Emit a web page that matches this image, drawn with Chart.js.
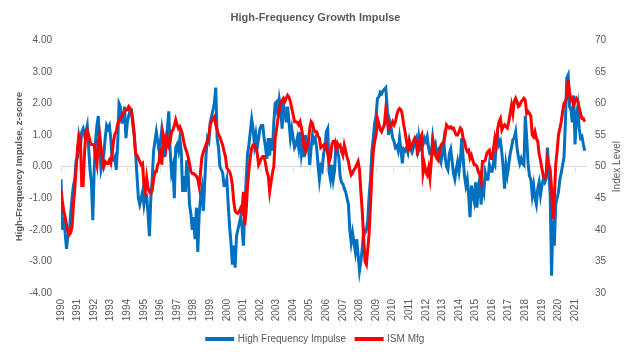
<!DOCTYPE html>
<html>
<head>
<meta charset="utf-8">
<script src="https://cdn.jsdelivr.net/npm/chart.js@4.4.0/dist/chart.umd.min.js"></script>
<style>
  html, body { margin: 0; padding: 0; background: #ffffff; }
</style>
</head>
<body>
<canvas id="myChart" width="631" height="354"></canvas>
<script>
// monthly readings, first value = Jan 1990
let startYear = 1990;

// High Frequency Impulse (z-score, left axis)
let hfImpulse = [
  -0.4, -2.0, -1.6, -2.1, -2.6, -2.2, -2.1, -1.5, -1.0, -0.6, -0.4, 0.2,   //1990
  0.3, 0.9, 0.6, 1.1, 1.2, 1.0, 1.1, 1.3, 0.6, -0.1, -0.5, -1.7,          //1991
  -0.1, 0.8, 1.3, 1.6, 0.6, -0.1, 0.1, 0.4, 0.9, 1.3, 1.2, 1.3,           //1992
  0.9, 0.2, 0.2, 0.3, -0.1, 0.7, 2.0, 1.9, 1.4, 1.4, 1.9, 0.9,            //1993
  1.4, 1.6, 1.8, 1.8, 1.3, 1.0, 0.4, -0.3, -1.0, -1.2, -1.0, -0.8,        //1994
  -1.2, -0.9, -0.9, -1.5, -2.2, -1.0, -0.4, 0.5, 0.8, 1.1, 0.8, 0.5,      //1995
  0.8, 1.2, 0.9, 0.3, 0.9, 1.2, 1.75, 0.5, -0.2, 0.0, -1.0, 0.6,          //1996
  0.7, 0.5, 0.9, 0.5, -0.8, -0.3, -0.8, 0.2, -0.2, -1.2, -1.5, -2.0,      //1997
  -1.6, -2.3, -1.3, -2.7, -1.5, -1.0, -0.7, -1.4, -0.5, 0.4, 0.9, 0.8,    //1998
  1.4, 1.6, 1.8, 2.0, 2.5, 0.9, 0.6, 0.0, -0.1, -0.2, -0.6, -0.6,         //1999
  -0.4, -1.2, -1.9, -2.4, -3.1, -2.5, -3.2, -2.2, -2.0, -1.8, -1.6, -1.9, //2000
  -2.5, -1.4, -0.4, 0.4, 0.7, 1.1, 1.5, 1.2, 0.7, 1.0, 0.6, 0.9,          //2001
  1.2, 1.3, 1.3, 0.9, 0.6, 0.25, 0.9, 0.35, 0.9, 0.5, 1.4, 2.0,           //2002
  2.05, 1.6, 2.1, 1.8, 1.2, 1.95, 1.8, 1.4, 1.9, 1.4, 0.9, 1.2,           //2003
  0.9, 0.6, 0.7, 0.9, 0.6, 1.1, 0.4, 0.7, 0.3, 1.0, 0.6, 0.7,             //2004
  0.05, 0.6, 1.0, 0.8, 0.9, 0.6, 0.05, -0.4, 0.0, -0.1, 0.4, 0.6,         //2005
  1.1, 1.2, -0.15, -0.4, 0.05, -0.4, -0.1, 0.7, 0.55, 0.3, -0.3, -0.5,    //2006
  -0.55, -0.7, -0.8, -1.0, -1.2, -2.0, -2.4, -2.1, -2.4, -2.7, -2.3, -2.8, //2007
  -3.3, -3.0, -2.6, -2.0, -2.1, -2.0, -1.7, -0.9, -0.4, 0.5, 0.9, 1.4,    //2008
  1.6, 2.15, 2.2, 2.35, 2.3, 2.4, 2.45, 2.5, 1.9, 1.0, 1.4, 1.2,          //2009
  0.9, 0.8, 0.6, 0.65, 0.5, 0.9, 0.55, 0.1, 0.55, 0.5, 0.6, 0.45,         //2010
  0.8, 0.55, 0.45, 0.6, 0.8, 0.9, 0.35, 0.9, 0.55, 0.6, 0.7, 0.9,         //2011
  0.8, 0.95, 0.6, 0.4, 0.4, 0.9, 0.55, 0.7, 0.4, 0.5, 0.3, 0.15,          //2012
  0.45, 0.8, 0.3, 0.0, -0.1, 0.4, 0.55, 0.2, -0.2, -0.4, -0.1, 0.15,      //2013
  -0.15, 0.2, 0.9, 0.3, -0.3, -0.6, -0.4, -0.9, -1.6, -0.6, -0.9, -1.1,   //2014
  -0.5, -1.3, -0.6, -0.4, -1.2, -0.6, -0.8, -0.2, -0.4, -0.4, 0.05, -0.15, //2015
  -0.15, 0.15, 0.05, 0.8, 1.0, 0.7, 0.8, 0.45, -0.05, -0.7, 0.05, -0.25,  //2016
  0.05, 0.4, 0.6, 0.85, 0.9, 1.1, 0.6, 0.3, 0.1, 0.25, 0.1, 0.05,         //2017
  1.6, 0.9, 0.1, -0.3, -0.4, -0.9, -0.6, -1.0, -1.2, -0.7, -0.5, -0.9,    //2018
  -0.6, -0.4, -0.5, -0.4, 0.6, -0.1, -0.9, -3.45, -1.7, -2.5, -1.2, -1.0, //2019
  -0.8, -0.4, -0.2, 0.05, 0.3, 1.4, 2.8, 2.9, 1.9, 1.8, 1.4, 2.25,        //2020
  0.7, 1.6, 1.9, 1.2, 0.9, 0.95, 0.7, 0.5                                 //2021
];

// ISM Mfg (index level, right axis)
let ismMfg = [
  46.3, 44.5, 43, 42, 40.8, 39.7, 39.2, 39.5, 40.5, 44, 46.5, 50,         //1990
  53, 55, 54.5, 47, 47, 52, 55.5, 55.8, 55, 54, 53.5, 53.5,               //1991
  53.4, 51.5, 50.3, 54, 55, 53, 51.3, 50, 50.8, 50.5, 50.5, 51,           //1992
  50.5, 52, 54, 55.2, 55.5, 56.8, 57.2, 57.6, 58, 58.4, 58.7, 59,         //1993
  59, 59.5, 59.2, 58.7, 57.4, 55, 52, 51.8, 51.3, 50.8, 50.3, 50.5,       //1994
  47.1, 46, 48.2, 46.6, 46, 45.8, 46.3, 48, 49.2, 49.2, 50.3, 50.8,       //1995
  52.9, 50.3, 55, 54, 52.9, 54.5, 53.4, 54, 55.5, 55.8, 56.5, 57.4,       //1996
  56.6, 56, 56.3, 55.8, 55, 53.8, 52.9, 52.3, 51.5, 50.5, 49.2, 48.9,     //1997
  48.9, 48.7, 48.5, 48, 46.8, 49.2, 51.5, 52.3, 52.9, 53.5, 54, 55,       //1998
  56.6, 57.2, 57.6, 57.9, 56.6, 55.8, 55, 54.7, 54, 53.4, 52.4, 51.6,     //1999
  49.8, 49.5, 49.2, 48.5, 47.1, 44.5, 43, 42.7, 42.6, 42.9, 43.4, 42.9,   //2000
  46, 40.8, 43, 47, 49.5, 51.5, 52.9, 53.4, 53.4, 52.9, 52.1, 50.3,       //2001
  50.8, 51.3, 51.6, 51.6, 50.5, 49.2, 48.5, 46, 47.5, 49, 50, 54.5,       //2002
  56, 57.5, 59, 60, 60.5, 60.8, 60.3, 60.8, 61.3, 61, 60.3, 59.2,         //2003
  58.2, 57.1, 57.1, 57, 56.6, 57.1, 56.1, 54.8, 53, 52.4, 53.2, 54,       //2004
  56, 57.1, 56.8, 55.8, 55.5, 55.5, 54.8, 54.5, 53, 53.2, 53.4, 53,       //2005
  53.4, 52, 50.8, 51.5, 53.5, 54, 54, 52.9, 53.7, 53.2, 53.4, 52.4,       //2006
  51.8, 53.4, 52.5, 51.5, 50.8, 49.5, 48.7, 49, 49.5, 49.8, 50.3, 50.8,   //2007
  49.5, 46, 42.9, 38.7, 35, 34.5, 37, 39.5, 44, 49, 52.4, 54,             //2008
  55, 57.6, 56.8, 55.8, 55.5, 56.1, 56.6, 59, 57.6, 56, 56.1, 56.5,       //2009
  57.1, 56.6, 57.1, 58.2, 58.9, 59.2, 59, 58.2, 56.6, 55.5, 54, 52.9,     //2010
  54, 53, 53.4, 54, 54.5, 54, 52.4, 53.4, 54.5, 55, 49, 50.3,             //2011
  49.2, 48.7, 49.8, 48.2, 51, 54, 53, 51.8, 51.3, 51, 52.5, 53.4,         //2012
  53.7, 53.9, 55, 56.6, 56.3, 56.1, 56.3, 56, 56.1, 55.5, 55, 55,         //2013
  55.5, 56.1, 55.8, 54.5, 54, 52.9, 52.4, 52.6, 51.3, 51.8, 51, 50.3,     //2014
  50.3, 50, 49.2, 48.7, 47.6, 50.8, 50.8, 51, 52, 52.4, 52.6, 51.3,       //2015
  51.3, 52.9, 54.5, 53.5, 56, 57.1, 57.6, 55.8, 56.3, 56.6, 56.3, 56.1,   //2016
  57.1, 58.4, 59.7, 58.4, 60.3, 60.8, 60.3, 59.5, 59.7, 60.3, 60.5, 60.8, //2017
  60.5, 58.4, 58.7, 58.4, 58, 55, 54.7, 55.5, 54.5, 54, 52, 51,           //2018
  49.7, 48.5, 48.2, 48.5, 51.3, 50.3, 49.5, 46.6, 41.6, 45, 50.3, 52.4,   //2019
  55, 56, 57.1, 58.7, 60, 60.3, 61, 63.7, 61.8, 60.5, 60.8, 59.7,         //2020
  60.3, 60.8, 60.5, 59.2, 58.4, 57.6, 57.6, 57.1                          //2021
];

let leftTicks = [-4, 4, 1];   // min, max, step
let rightTicks = [30, 70, 5];

let hfPoints = hfImpulse.map((v, i) => ({ x: startYear + i / 12, y: v }));
let ismPoints = ismMfg.map((v, i) => ({ x: startYear + i / 12, y: v }));

let cinza = '#595959';
Chart.defaults.font.family = "'Liberation Sans', Arial, sans-serif";
Chart.defaults.font.size = 10;
Chart.defaults.color = cinza;

// pequenos tracos no eixo do zero
let zeroTicks = {
    id: 'zeroTicks',
    beforeDatasetsDraw(chart) {
        let c = chart.ctx;
        let x = chart.scales.x;
        let y0 = Math.round(chart.scales.y.getPixelForValue(0)) + 0.5;
        c.save();
        c.strokeStyle = '#d9d9d9';
        c.lineWidth = 1;
        x.ticks.forEach(t => {
            let px = Math.round(x.getPixelForValue(t.value)) + 0.5;
            c.beginPath();
            c.moveTo(px, y0);
            c.lineTo(px, y0 + 4);
            c.stroke();
        });
        c.restore();
    }
};

// titulo do eixo direito, lido de baixo para cima
let rightTitle = {
    id: 'rightTitle',
    afterDraw(chart) {
        let c = chart.ctx;
        let s = chart.scales.y1;
        c.save();
        c.translate(s.right - 14, (s.top + s.bottom) / 2);
        c.rotate(-Math.PI / 2);
        c.fillStyle = cinza;
        c.font = "10px 'Liberation Sans', Arial, sans-serif";
        c.textAlign = 'center';
        c.textBaseline = 'middle';
        c.fillText('Index Level', 0, 0);
        c.restore();
    }
};

let ctx = document.getElementById('myChart').getContext('2d');
let myChart = new Chart(ctx, {
    type: 'line',
    data: {
        datasets: [
            {
                label: 'High Frequency Impulse',
                data: hfPoints,
                yAxisID: 'y',
                borderColor: '#0070C0',
                backgroundColor: '#0070C0',
                borderWidth: 3,
                pointRadius: 0,
                order: 2
            },
            {
                label: 'ISM Mfg',
                data: ismPoints,
                yAxisID: 'y1',
                borderColor: '#FF0000',
                backgroundColor: '#FF0000',
                borderWidth: 3,
                pointRadius: 0,
                order: 1
            }
        ]
    },
    options: {
        responsive: false,
        animation: false,
        devicePixelRatio: 1,
        layout: { padding: 0 },
        plugins: {
            title: {
                display: true,
                text: 'High-Frequency Growth Impulse',
                color: cinza,
                font: { size: 11, weight: 'bold' },
                padding: { top: 11, bottom: 16 }
            },
            legend: {
                position: 'bottom',
                labels: {
                    boxWidth: 26,
                    boxHeight: 1,
                    color: cinza,
                    padding: 10,
                    sort: (a, b) => a.datasetIndex - b.datasetIndex
                }
            },
            tooltip: { enabled: false }
        },
        scales: {
            x: {
                type: 'linear',
                min: startYear,
                max: 2021.72,
                ticks: {
                    stepSize: 1,
                    autoSkip: false,
                    includeBounds: false,
                    minRotation: 90,
                    maxRotation: 90,
                    padding: 6,
                    callback: v => String(v)
                },
                grid: { display: false, drawTicks: false },
                border: { display: false },
                afterFit: s => { s.height = 31; }
            },
            y: {
                position: 'left',
                min: leftTicks[0],
                max: leftTicks[1],
                ticks: {
                    stepSize: leftTicks[2],
                    padding: 9,
                    callback: v => v.toFixed(2)
                },
                grid: {
                    color: g => g.tick.value === 0 ? '#d9d9d9' : 'rgba(0,0,0,0)',
                    drawTicks: false
                },
                border: { display: false },
                title: {
                    display: true,
                    text: 'High-Frequency Impulse, z-score',
                    color: cinza,
                    font: { size: 9.5, weight: 'bold' },
                    padding: { top: 14, bottom: 0 }
                },
                afterFit: s => { s.width = 61; }
            },
            y1: {
                position: 'right',
                min: rightTicks[0],
                max: rightTicks[1],
                ticks: {
                    stepSize: rightTicks[2],
                    padding: 8
                },
                grid: { display: false, drawTicks: false },
                border: { display: false },
                afterFit: s => { s.width = 44; }
            }
        }
    },
    plugins: [zeroTicks, rightTitle]
});
</script>
</body>
</html>
